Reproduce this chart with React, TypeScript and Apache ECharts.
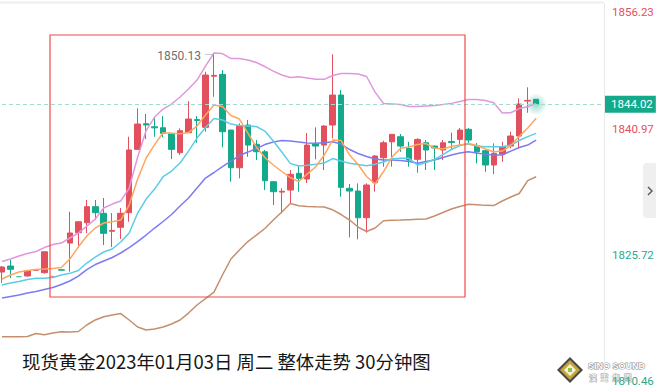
import React, { useEffect, useRef } from 'react';
import * as echarts from 'echarts';

// 30-minute slots (64 bars drawn, the rest of the axis left empty)
const categories: string[] = Array.from({ length: 72 }, (_, i) => {
  const m = i * 30;
  const h = Math.floor(m / 60) % 24;
  return `${String(h).padStart(2, '0')}:${m % 60 === 0 ? '00' : '30'}#${i}`;
});

// [open, close, low, high]
const candles: number[][] = [
  [1823.65, 1824.26, 1822.32, 1824.38],
  [1824.38, 1823.98, 1822.92, 1825.11],
  [1823.10, 1823.05, 1823.00, 1823.15],
  [1823.17, 1823.81, 1823.10, 1823.85],
  [1823.87, 1823.90, 1823.85, 1823.95],
  [1823.57, 1826.11, 1823.45, 1826.15],
  [1823.08, 1823.12, 1823.02, 1823.18],
  [1823.92, 1823.88, 1823.85, 1823.95],
  [1827.17, 1828.39, 1823.69, 1830.97],
  [1828.42, 1829.75, 1826.56, 1829.80],
  [1829.63, 1831.58, 1828.38, 1832.39],
  [1831.58, 1830.85, 1829.96, 1832.39],
  [1830.78, 1828.35, 1826.93, 1832.63],
  [1828.60, 1828.70, 1826.68, 1830.81],
  [1829.08, 1830.78, 1827.66, 1831.42],
  [1830.85, 1838.46, 1829.75, 1840.07],
  [1838.54, 1841.61, 1838.46, 1843.52],
  [1841.65, 1841.50, 1839.79, 1842.83],
  [1841.28, 1841.15, 1840.07, 1842.50],
  [1841.16, 1840.48, 1840.00, 1842.58],
  [1840.48, 1838.54, 1837.36, 1840.50],
  [1838.13, 1840.80, 1837.85, 1841.09],
  [1840.56, 1842.22, 1840.52, 1844.40],
  [1842.15, 1842.05, 1839.34, 1842.58],
  [1841.21, 1847.56, 1840.68, 1847.96],
  [1847.42, 1847.52, 1844.92, 1850.13],
  [1847.64, 1840.68, 1838.78, 1848.16],
  [1840.88, 1836.31, 1834.61, 1840.90],
  [1836.31, 1841.37, 1835.02, 1841.70],
  [1841.49, 1839.06, 1837.64, 1842.10],
  [1839.15, 1838.25, 1837.24, 1839.67],
  [1838.25, 1834.73, 1833.60, 1838.46],
  [1834.61, 1833.40, 1831.78, 1834.65],
  [1833.35, 1833.45, 1830.78, 1833.81],
  [1833.60, 1835.51, 1832.02, 1836.03],
  [1835.63, 1835.02, 1833.40, 1836.64],
  [1834.94, 1839.06, 1834.45, 1840.52],
  [1839.19, 1838.94, 1837.33, 1841.21],
  [1839.06, 1841.37, 1836.03, 1841.49],
  [1841.49, 1845.13, 1839.88, 1850.07],
  [1845.13, 1833.93, 1832.79, 1845.74],
  [1833.81, 1833.48, 1827.86, 1834.33],
  [1833.48, 1830.24, 1827.62, 1834.41],
  [1830.24, 1834.21, 1828.42, 1834.41],
  [1834.49, 1837.73, 1833.40, 1837.85],
  [1837.52, 1839.34, 1836.43, 1839.58],
  [1839.46, 1840.36, 1836.43, 1840.40],
  [1840.07, 1838.94, 1838.25, 1840.40],
  [1838.66, 1837.24, 1836.43, 1839.46],
  [1837.33, 1839.75, 1835.70, 1839.88],
  [1839.34, 1838.46, 1836.03, 1839.67],
  [1838.94, 1838.70, 1836.03, 1839.00],
  [1838.46, 1839.34, 1837.24, 1839.67],
  [1839.50, 1839.38, 1838.46, 1840.56],
  [1839.75, 1840.88, 1839.06, 1841.13],
  [1840.97, 1839.67, 1839.06, 1841.13],
  [1838.94, 1838.25, 1836.84, 1839.31],
  [1838.37, 1836.64, 1835.82, 1838.46],
  [1836.64, 1838.06, 1835.54, 1839.27],
  [1837.97, 1838.86, 1837.04, 1839.46],
  [1838.94, 1840.16, 1838.66, 1840.68],
  [1840.16, 1844.04, 1838.66, 1844.73],
  [1844.40, 1844.48, 1842.98, 1846.07],
  [1844.61, 1844.02, 1844.00, 1844.65],
];
const faintBars = [2, 6];

const bollUpper = [
  1824.93, 1825.23, 1825.59, 1825.90, 1826.14, 1826.62, 1826.99, 1827.17, 1827.78, 1828.38,
  1829.23, 1830.08, 1831.42, 1831.90, 1832.27, 1833.84, 1837.61, 1840.82, 1842.46, 1843.43,
  1844.04, 1844.89, 1845.86, 1846.95, 1848.65, 1850.23, 1850.17, 1849.56, 1849.56, 1849.38,
  1849.08, 1848.59, 1848.04, 1847.56, 1847.25, 1847.35, 1847.19, 1847.04, 1847.04, 1847.50,
  1847.74, 1847.76, 1847.68, 1847.38, 1845.49, 1844.10, 1844.04, 1843.98, 1843.74, 1843.74,
  1843.80, 1843.86, 1843.98, 1844.12, 1844.34, 1844.58, 1844.58, 1844.46, 1844.20, 1842.95,
  1842.98, 1843.49, 1843.71, 1844.12,
];
const ma5 = [
  1822.80, 1823.29, 1823.65, 1823.83, 1823.95, 1824.01, 1824.08, 1824.20, 1825.23, 1826.68,
  1828.02, 1828.99, 1829.60, 1829.75, 1829.96, 1831.78, 1834.94, 1837.49, 1839.12, 1840.56,
  1840.49, 1840.42, 1840.58, 1841.37, 1842.70, 1843.92, 1843.74, 1842.64, 1842.22, 1840.52,
  1838.82, 1837.55, 1836.64, 1835.85, 1835.12, 1834.63, 1835.54, 1836.43, 1837.85, 1839.67,
  1839.61, 1837.85, 1836.70, 1835.24, 1834.33, 1835.85, 1837.61, 1838.66, 1838.82, 1839.12,
  1839.24, 1838.70, 1838.58, 1838.88, 1839.06, 1839.24, 1839.00, 1838.58, 1838.25, 1838.33,
  1839.00, 1840.09, 1841.13, 1842.30,
];
const ma10 = [
  1822.07, 1822.32, 1822.50, 1822.74, 1822.89, 1822.89, 1822.98, 1823.29, 1823.49, 1823.83,
  1824.74, 1825.47, 1826.08, 1826.44, 1827.29, 1828.38, 1830.81, 1832.51, 1833.72, 1835.22,
  1835.91, 1836.88, 1838.33, 1839.91, 1841.19, 1842.28, 1842.10, 1841.61, 1841.43, 1841.37,
  1841.31, 1840.76, 1839.55, 1838.21, 1836.84, 1836.51, 1836.60, 1836.72, 1836.88, 1837.42,
  1837.12, 1836.84, 1836.70, 1836.55, 1836.72, 1837.00, 1837.40, 1837.45, 1837.45, 1836.64,
  1836.94, 1837.30, 1837.91, 1838.52, 1839.00, 1839.18, 1838.94, 1838.86, 1838.86, 1838.86,
  1839.06, 1839.61, 1840.09, 1840.48,
];
const bollMid = [
  1820.49, 1820.68, 1820.86, 1821.10, 1821.28, 1821.53, 1821.77, 1822.13, 1822.56, 1823.16,
  1823.95, 1824.56, 1824.99, 1825.41, 1825.96, 1826.62, 1827.35, 1828.14, 1828.99, 1829.78,
  1830.63, 1831.66, 1832.63, 1833.84, 1835.06, 1835.73, 1836.45, 1837.12, 1837.79, 1838.21,
  1838.64, 1839.12, 1839.43, 1839.61, 1839.55, 1839.43, 1839.31, 1839.27, 1839.34, 1839.46,
  1839.18, 1838.52, 1838.03, 1837.67, 1837.36, 1837.24, 1837.24, 1837.18, 1837.06, 1836.84,
  1837.06, 1837.24, 1837.55, 1837.85, 1838.09, 1838.24, 1838.09, 1837.93, 1837.85, 1837.85,
  1838.33, 1838.76, 1839.06, 1839.67,
];
const bollLower = [
  1815.80, 1815.80, 1815.80, 1815.82, 1816.19, 1816.03, 1816.25, 1816.41, 1816.37, 1816.43,
  1817.22, 1817.83, 1818.23, 1818.43, 1818.61, 1817.83, 1816.98, 1816.61, 1816.73, 1816.98,
  1817.34, 1817.83, 1818.67, 1819.65, 1820.43, 1821.22, 1823.29, 1825.23, 1826.32, 1827.35,
  1828.14, 1828.93, 1829.96, 1830.93, 1831.96, 1831.70, 1831.60, 1831.56, 1831.54, 1831.20,
  1830.63, 1829.96, 1829.11, 1828.57, 1828.99, 1829.88, 1829.92, 1829.96, 1830.01, 1830.05,
  1830.08, 1830.45, 1830.87, 1831.30, 1831.60, 1831.87, 1831.81, 1831.74, 1831.72, 1832.27,
  1832.75, 1833.18, 1834.75, 1835.22,
];

const axisTicks = [1856.23, 1840.97, 1825.72, 1810.46];
const axisMin = 1810.46;
const axisMax = 1856.23;
const refPrice = 1833.0;
const lastPrice = 1844.02;
const highIndex = 25;
const highValue = 1850.13;
const titleText = '现货黄金2023年01月03日 周二 整体走势 30分钟图';

const UP = '#e2505d';
const DOWN = '#13a98b';
const NUM_FONT = 'Roboto, "Noto Sans", sans-serif';

export default function App() {
  const ref = useRef<HTMLDivElement>(null);

  useEffect(() => {
    if (!ref.current) return;
    const chart = echarts.init(ref.current, undefined, { renderer: 'svg' });

    const candleData = candles.map((c, i) =>
      faintBars.includes(i) ? { value: c, itemStyle: { opacity: 0.45 } } : c
    );

    const line = (name: string, data: number[], color: string) => ({
      name,
      type: 'line',
      data,
      symbol: 'none',
      showSymbol: false,
      silent: true,
      z: 3,
      lineStyle: { color, width: 1.5 },
    });

    chart.setOption({
      animation: false,
      backgroundColor: '#ffffff',
      title: {
        text: titleText,
        left: 22,
        top: 352,
        padding: 0,
        textStyle: {
          fontSize: 18.4,
          fontWeight: 'normal',
          color: '#161616',
          fontFamily: '"Noto Sans CJK SC", sans-serif',
        },
      },
      grid: {
        left: 2,
        right: 52,
        top: 3.6,
        bottom: 11.3,
        containLabel: false,
        outerBoundsMode: 'none',
      },
      xAxis: {
        type: 'category',
        data: categories,
        boundaryGap: false,
        axisLine: { show: false },
        axisTick: { show: false },
        axisLabel: { show: false },
        splitLine: { show: false },
      },
      yAxis: {
        type: 'value',
        position: 'right',
        min: axisMin,
        max: axisMax,
        axisLine: { show: true, lineStyle: { color: '#e9e9e9', width: 1 } },
        axisTick: { show: false },
        splitLine: { show: false },
        axisLabel: {
          customValues: axisTicks,
          margin: 8,
          fontSize: 11.5,
          lineHeight: 16,
          fontFamily: NUM_FONT,
          color: (v: any) => (Number(v) > refPrice ? UP : '#2aa98b'),
          formatter: (v: number) => {
            const s = Number(v).toFixed(2);
            return v >= axisMax - 0.001 ? `\n${s}` : s;
          },
        },
      },
      series: [
        {
          type: 'scatter',
          data: [[categories[candles.length - 1], lastPrice]],
          symbolSize: 22,
          silent: true,
          z: 1,
          itemStyle: {
            color: new echarts.graphic.RadialGradient(0.5, 0.5, 0.5, [
              { offset: 0, color: 'rgba(19,169,139,0.55)' },
              { offset: 0.55, color: 'rgba(19,169,139,0.25)' },
              { offset: 1, color: 'rgba(19,169,139,0)' },
            ]),
          },
        },
        {
          type: 'candlestick',
          data: candleData,
          barWidth: 6,
          z: 2,
          itemStyle: {
            color: UP,
            color0: DOWN,
            borderColor: UP,
            borderColor0: DOWN,
            borderWidth: 1,
          },
          markLine: {
            symbol: 'none',
            silent: true,
            animation: false,
            data: [
              {
                yAxis: lastPrice,
                lineStyle: { type: [4, 3], color: '#9fdccd', width: 1 },
                label: {
                  show: true,
                  position: 'end',
                  distance: 1,
                  formatter: () => lastPrice.toFixed(2),
                  color: '#ffffff',
                  backgroundColor: '#13a98b',
                  padding: [3, 3, 2, 6],
                  fontSize: 11.5,
                  lineHeight: 12,
                  fontFamily: NUM_FONT,
                },
              },
              [
                {
                  coord: [categories[highIndex - 1], highValue],
                  lineStyle: { type: 'dotted', color: '#9a9a9a', width: 1 },
                  label: { show: false },
                },
                { coord: [categories[highIndex], highValue] },
              ],
            ],
          },
          markPoint: {
            silent: true,
            animation: false,
            symbol: 'circle',
            symbolSize: 1,
            itemStyle: { color: 'rgba(0,0,0,0)' },
            data: [
              {
                coord: [categories[highIndex - 1], highValue],
                label: {
                  show: true,
                  position: 'left',
                  distance: 4,
                  offset: [0, 2],
                  formatter: () => highValue.toFixed(2),
                  color: '#6f6f6f',
                  fontSize: 12,
                  fontFamily: NUM_FONT,
                },
              },
            ],
          },
        },
        line('BOLL-UP', bollUpper, '#e197dd'),
        line('BOLL-LOW', bollLower, '#c58f6d'),
        line('BOLL-MID', bollMid, '#7c7cf0'),
        line('MA10', ma10, '#5ccde6'),
        line('MA5', ma5, '#ffa660'),
      ],
      graphic: [
        {
          type: 'line',
          silent: true,
          shape: { x1: 0, y1: 2.5, x2: 604, y2: 2.5 },
          style: { stroke: '#eeeeee', lineWidth: 2 },
        },
        {
          type: 'rect',
          silent: true,
          z: 10,
          shape: { x: 50, y: 35, width: 415, height: 262 },
          style: { fill: 'none', stroke: '#f04a4a', lineWidth: 1.2 },
        },
        {
          type: 'rect',
          silent: true,
          shape: { x: 643, y: 163, width: 14, height: 55, r: [4, 0, 0, 4] },
          style: { fill: '#efefef' },
        },
        {
          type: 'polyline',
          silent: true,
          shape: { points: [[648, 187], [652, 191], [648, 195]] },
          style: { stroke: '#555555', lineWidth: 1.4, fill: 'none' },
        },
        {
          type: 'group',
          silent: true,
          z: 20,
          children: [
            {
              type: 'polygon',
              shape: { points: [[570, 357], [583, 370], [570, 383], [557, 370]] },
              style: { fill: '#4a4a4a' },
            },
            {
              type: 'polygon',
              shape: { points: [[570, 360], [580, 370], [570, 380], [560, 370]] },
              style: { fill: '#c9a437' },
            },
            {
              type: 'polygon',
              shape: { points: [[570, 364], [576, 370], [570, 376], [564, 370]] },
              style: { fill: '#f4f0e0' },
            },
            {
              type: 'rect',
              shape: { x: 568, y: 368, width: 4, height: 4 },
              style: { fill: '#8cc63f' },
            },
            {
              type: 'text',
              x: 588,
              y: 366,
              style: {
                text: 'SINO SOUND',
                fontSize: 9,
                fontWeight: 'bold',
                fontFamily: '"Liberation Sans", sans-serif',
                fill: '#ffffff',
                stroke: '#8a8a8a',
                lineWidth: 1,
                verticalAlign: 'middle',
              },
            },
            {
              type: 'text',
              x: 589,
              y: 377,
              style: {
                text: '漢  聲  集  團',
                fontSize: 8,
                fontFamily: '"Noto Sans CJK TC", sans-serif',
                fill: '#ffffff',
                stroke: '#a0a0a0',
                lineWidth: 0.8,
                verticalAlign: 'middle',
              },
            },
          ],
        },
      ],
    });

    return () => chart.dispose();
  }, []);

  return (
    <div
      ref={ref}
      style={{ position: 'fixed', left: 0, top: 0, width: 656, height: 392, background: '#fff' }}
    />
  );
}
